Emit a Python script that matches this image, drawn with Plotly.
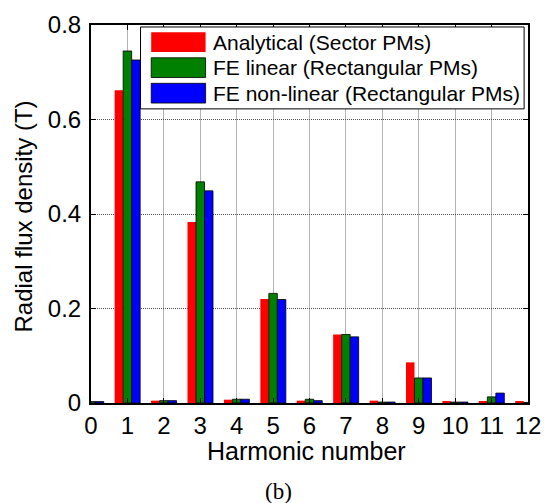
import plotly.graph_objects as go

# ── Data ──────────────────────────────────────────────────────────────────────
HARMONICS = list(range(13))
ANALYTICAL = [0.002, 0.662, 0.005, 0.383, 0.007, 0.220, 0.005, 0.145, 0.005, 0.086, 0.003, 0.003, 0.003]
FE_LINEAR = [0.003, 0.745, 0.005, 0.468, 0.008, 0.232, 0.008, 0.145, 0.002, 0.053, 0.002, 0.013, 0.001]
FE_NONLINEAR = [0.003, 0.726, 0.005, 0.449, 0.008, 0.219, 0.005, 0.140, 0.002, 0.053, 0.002, 0.021, 0.001]
SERIES_NAMES = ["Analytical (Sector PMs)", "FE linear (Rectangular PMs)", "FE non-linear (Rectangular PMs)"]
Y_TICKS = [0, 0.2, 0.4, 0.6, 0.8]
Y_TICK_TEXT = ["0", "0.2", "0.4", "0.6", "0.8"]

RED = "#FF0000"
GREEN = "#008000"
BLUE = "#0000FF"
FONT = "Liberation Sans, Arial, sans-serif"

# ── Geometry (pixels) ─────────────────────────────────────────────────────────
W, H = 552, 503
L, R, T, B = 91, 541, 20, 403


def px(x):
    return (x - L) / (R - L)


def py(y):
    return (B - y) / (B - T)


fig = go.Figure()
series = [
    (SERIES_NAMES[0], ANALYTICAL, RED, 0),
    (SERIES_NAMES[1], FE_LINEAR, GREEN, 0.8),
    (SERIES_NAMES[2], FE_NONLINEAR, BLUE, 0.8),
]
for name, vals, color, lw in series:
    fig.add_trace(go.Bar(
        name=name, x=HARMONICS, y=vals,
        marker=dict(color=color, line=dict(color="#000000", width=lw)),
        showlegend=False,
    ))

# manual MATLAB-style legend (large swatches)
shapes = [dict(type="rect", xref="paper", yref="paper",
               x0=px(142), x1=px(537), y0=py(105), y1=py(22),
               fillcolor="#FFFFFF", line=dict(color="#000000", width=1), layer="above")]
annotations = []
for i, (name, vals, color, lw) in enumerate(series):
    top = 27.3 + i * 25.9
    shapes.append(dict(type="rect", xref="paper", yref="paper",
                       x0=px(153), x1=px(209), y0=py(top + 20), y1=py(top),
                       fillcolor=color, line=dict(color="#000000", width=lw), layer="above"))
    annotations.append(dict(text=name, xref="paper", yref="paper",
                            x=px(215), y=py(top + 10), xanchor="left", yanchor="middle",
                            showarrow=False, font=dict(family=FONT, size=21, color="#000000")))

annotations += [
    dict(text="Harmonic number", xref="paper", yref="paper", x=px(313), y=py(452),
         xanchor="center", yanchor="middle", showarrow=False,
         font=dict(family=FONT, size=25, color="#000000")),
    dict(text="Radial flux density (T)", xref="paper", yref="paper", x=px(21), y=py(214),
         xanchor="center", yanchor="middle", textangle=-90, showarrow=False,
         font=dict(family=FONT, size=24, color="#000000")),
    dict(text="(b)", xref="paper", yref="paper", x=px(284), y=py(493),
         xanchor="center", yanchor="middle", showarrow=False,
         font=dict(family="Liberation Serif, Times New Roman, serif", size=23, color="#000000")),
]

fig.update_layout(
    width=W, height=H,
    margin=dict(l=L, r=W - R, t=T, b=H - B, pad=0),
    plot_bgcolor="#FFFFFF", paper_bgcolor="#FFFFFF",
    barmode="group", bargap=0.3, bargroupgap=0,
    font=dict(family=FONT, size=24, color="#000000"),
    shapes=shapes, annotations=annotations,
    showlegend=False,
)
fig.update_xaxes(
    range=[0, 12], tickmode="linear", tick0=0, dtick=1,
    showline=True, linecolor="#000000", linewidth=2, mirror="ticks",
    ticks="inside", ticklen=5, tickcolor="#000000",
    showgrid=True, gridcolor="#B4B4B4", gridwidth=1,
    zeroline=False, ticklabeloverflow="allow",
    tickfont=dict(family=FONT, size=24, color="#000000"),
)
fig.update_yaxes(
    range=[0, 0.8], tickvals=Y_TICKS, ticktext=Y_TICK_TEXT,
    showline=True, linecolor="#000000", linewidth=2, mirror="ticks",
    ticks="inside", ticklen=5, tickcolor="#000000",
    showgrid=True, gridcolor="#505050", griddash="1px,1px", gridwidth=1,
    zeroline=False, ticklabelstandoff=3,
    tickfont=dict(family=FONT, size=24, color="#000000"),
)

# drop the default page margin so the figure sits at the window origin
fig.write_html("out.html", config={"displayModeBar": False},
               post_script="document.body.style.margin='0';")
